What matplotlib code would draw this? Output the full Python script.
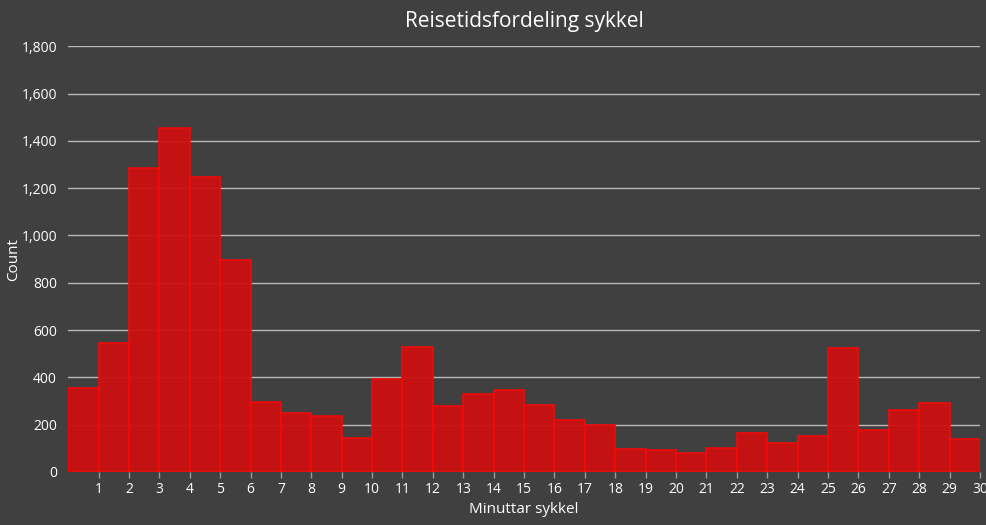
import matplotlib.pyplot as plt
from matplotlib.ticker import FuncFormatter

plt.rcParams['font.family'] = ['Open Sans', 'DejaVu Sans']

# minute bins 0-1, 1-2, ... 29-30
bin_edges = list(range(0, 31))
counts = [355, 545, 1284, 1453, 1246, 896, 296, 249, 237, 144,
          393, 528, 279, 330, 346, 283, 220, 199, 97, 93,
          80, 101, 165, 123, 152, 524, 177, 262, 292, 139]
x_ticks = list(range(1, 31))
y_ticks = [0, 200, 400, 600, 800, 1000, 1200, 1400, 1600, 1800]

bg = '#404040'
fig = plt.figure(figsize=(9.87, 5.25), dpi=100, facecolor=bg)
ax = fig.add_axes([0.069, 0.101, 0.924, 0.811])
ax.set_facecolor(bg)

ax.bar(bin_edges[:-1], counts, width=1, align='edge',
       color='#CC1010', edgecolor='#F50808', linewidth=1.2, alpha=0.95, zorder=3)

ax.set_xlim(0, 30)
ax.set_ylim(0, 1800)
ax.set_xticks(x_ticks)
ax.set_yticks(y_ticks)
ax.yaxis.set_major_formatter(FuncFormatter(lambda v, p: f'{int(v):,}'))

ax.grid(axis='y', color='#B8B8B8', linewidth=1, zorder=1)
for s in ax.spines.values():
    s.set_visible(False)
ax.tick_params(axis='x', colors='#9A9A9A', length=4, width=1, labelcolor='white',
               labelsize=10, pad=3)
ax.tick_params(axis='y', length=0, labelcolor='white', labelsize=10, pad=8)

ax.set_title('Reisetidsfordeling sykkel', color='white', fontsize=15, pad=14)
ax.set_xlabel('Minuttar sykkel', color='white', fontsize=11, labelpad=4)
ax.set_ylabel('Count', color='white', fontsize=11)
ax.yaxis.set_label_coords(-0.051, 0.5)

fig.savefig('out.png', dpi=100, facecolor=bg)
